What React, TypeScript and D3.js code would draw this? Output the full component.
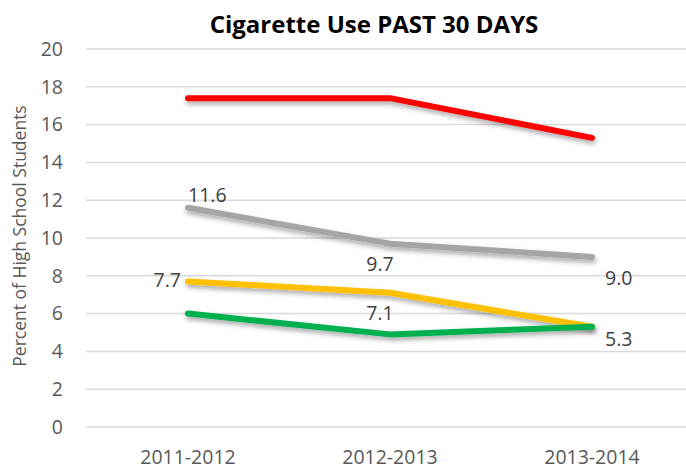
import { useEffect, useRef } from "react";
import * as d3 from "d3";

const years = ["2011-2012", "2012-2013", "2013-2014"];
const redValues = [17.4, 17.4, 15.3];
const grayValues = [11.6, 9.7, 9.0];
const yellowValues = [7.7, 7.1, 5.3];
const greenValues = [6.0, 4.9, 5.3];
const yTicks = [0, 2, 4, 6, 8, 10, 12, 14, 16, 18, 20];

const seriesList = [
  { key: "red", values: redValues, color: "#ff0000" },
  { key: "gray", values: grayValues, color: "#a5a5a5" },
  { key: "yellow", values: yellowValues, color: "#ffc000" },
  { key: "green", values: greenValues, color: "#00b050" },
];

// which series carry value labels, and where they sit
const labelSpecs = [
  { series: 1, idx: 0, dx: 0, dy: -13, anchor: "start" },
  { series: 1, idx: 1, dx: -10, dy: 21, anchor: "middle" },
  { series: 1, idx: 2, dx: 13, dy: 21, anchor: "start" },
  { series: 2, idx: 0, dx: -7, dy: -1, anchor: "end" },
  { series: 2, idx: 1, dx: -10, dy: 20, anchor: "middle" },
  { series: 2, idx: 2, dx: 13, dy: 12, anchor: "start" },
];

const font = "'Open Sans', sans-serif";

export default function App() {
  const svgRef = useRef<SVGSVGElement>(null);

  useEffect(() => {
    if (!svgRef.current) return;
    const width = 686;
    const height = 470;
    const svg = d3.select(svgRef.current);
    svg.selectAll("*").remove();

    const x = d3.scalePoint<string>().domain(years).range([188, 592]);
    const y = d3.scaleLinear().domain([0, 20]).range([427, 49]);

    const defs = svg.append("defs");
    const filter = defs.append("filter").attr("id", "shadow")
      .attr("x", "-10%").attr("y", "-50%").attr("width", "120%").attr("height", "200%");
    filter.append("feDropShadow")
      .attr("dx", 1).attr("dy", 3).attr("stdDeviation", 2.5)
      .attr("flood-color", "#000").attr("flood-opacity", 0.35);

    svg.append("rect").attr("width", width).attr("height", height).attr("fill", "#fff");

    // Gridlines
    svg.selectAll("line.grid")
      .data(yTicks)
      .join("line")
      .attr("class", "grid")
      .attr("x1", 86)
      .attr("x2", width)
      .attr("y1", (d) => y(d))
      .attr("y2", (d) => y(d))
      .attr("stroke", "#d9d9d9")
      .attr("stroke-width", 1.5);

    // Y tick labels
    svg.selectAll("text.ytick")
      .data(yTicks)
      .join("text")
      .attr("class", "ytick")
      .attr("x", 63)
      .attr("y", (d) => y(d))
      .attr("dy", "0.35em")
      .attr("text-anchor", "end")
      .attr("fill", "#595959")
      .attr("font-size", "19.5px")
      .attr("font-family", font)
      .text((d) => d);

    // X category labels
    svg.selectAll("text.xtick")
      .data(years)
      .join("text")
      .attr("class", "xtick")
      .attr("x", (d) => x(d) as number)
      .attr("y", 464)
      .attr("text-anchor", "middle")
      .attr("fill", "#595959")
      .attr("font-size", "19.5px")
      .attr("font-family", font)
      .text((d) => d);

    // Axis title
    svg.append("text")
      .attr("transform", `translate(20,236) rotate(-90)`)
      .attr("text-anchor", "middle")
      .attr("dy", "0.35em")
      .attr("fill", "#595959")
      .attr("font-size", "17.5px")
      .attr("font-family", font)
      .text("Percent of High School Students");

    // Chart title
    svg.append("text")
      .attr("x", 374)
      .attr("y", 25)
      .attr("dy", "0.35em")
      .attr("text-anchor", "middle")
      .attr("fill", "#000")
      .attr("font-size", "24px")
      .attr("font-weight", "bold")
      .attr("font-family", font)
      .text("Cigarette Use PAST 30 DAYS");

    const line = d3.line<number>()
      .x((_, i) => x(years[i]) as number)
      .y((d) => y(d));

    svg.selectAll("path.series")
      .data(seriesList)
      .join("path")
      .attr("class", "series")
      .attr("d", (d) => line(d.values))
      .attr("fill", "none")
      .attr("stroke", (d) => d.color)
      .attr("stroke-width", 6)
      .attr("stroke-linecap", "round")
      .attr("stroke-linejoin", "round")
      .attr("filter", "url(#shadow)");

    // Value labels
    svg.selectAll("text.value")
      .data(labelSpecs)
      .join("text")
      .attr("class", "value")
      .attr("x", (d) => (x(years[d.idx]) as number) + d.dx)
      .attr("y", (d) => y(seriesList[d.series].values[d.idx]) + d.dy)
      .attr("dy", "0.35em")
      .attr("text-anchor", (d) => d.anchor)
      .attr("fill", "#404040")
      .attr("font-size", "19.5px")
      .attr("font-family", font)
      .text((d) => seriesList[d.series].values[d.idx].toFixed(1));
  }, []);

  return (
    <svg
      ref={svgRef}
      width={686}
      height={470}
      style={{ position: "absolute", top: 0, left: 0, display: "block" }}
    />
  );
}
